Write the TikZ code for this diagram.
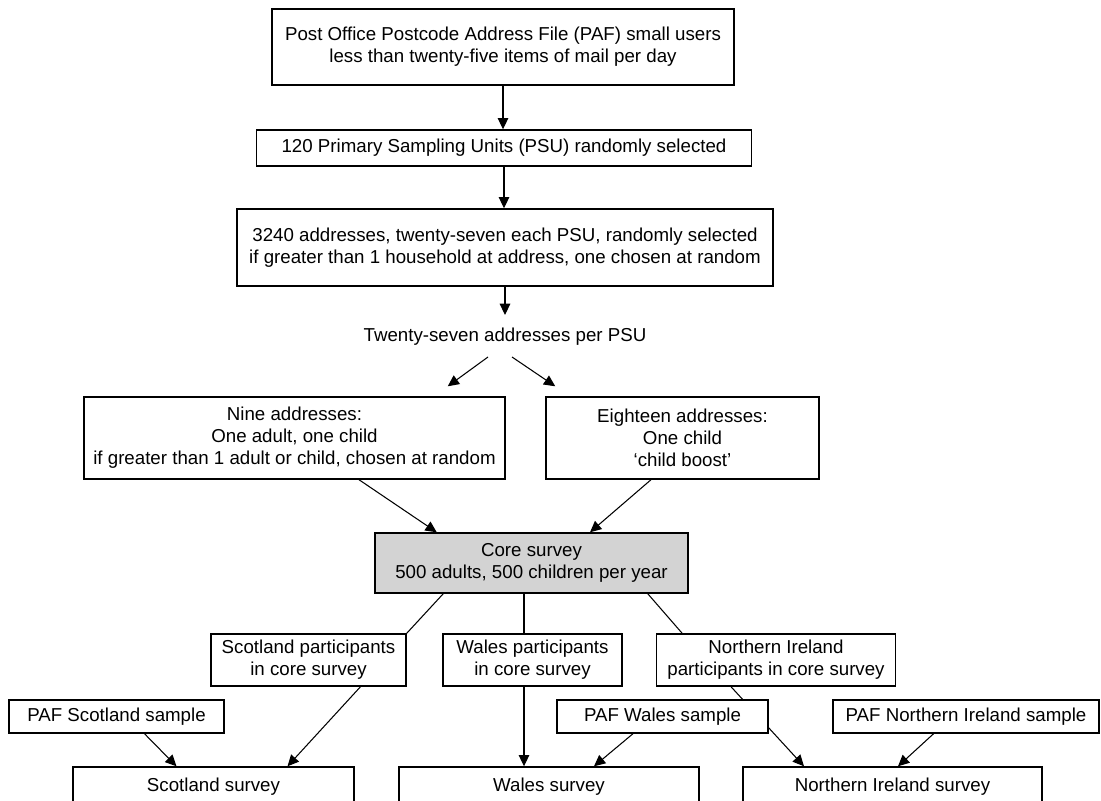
\documentclass[tikz,border=0pt]{standalone}
\usepackage{fontspec}
\setmainfont{Liberation Sans}
\usetikzlibrary{arrows.meta,calc,backgrounds}
\definecolor{coregray}{RGB}{211,211,211}

\begin{document}
\begin{tikzpicture}[x=0.025cm, y=-0.025cm,
    box/.style={draw, line width=1pt, fill=white, align=center, inner sep=0pt,
        font=\fontsize{13.3pt}{15.6pt}\selectfont},
    lbl/.style={inner sep=0pt, font=\fontsize{13.3pt}{15.6pt}\selectfont},
    link/.style={line width=0.75pt},
    arr/.style={line width=0.75pt, -{Triangle[length=8pt,width=7.5pt]}}]
    \useasboundingbox (0,0) rectangle (1101,801);

    % Sampling frame
    \node[box, minimum width=11.55cm, minimum height=1.9cm] (paf) at (503,47)
        {Post Office Postcode Address File (PAF) small users\\less than twenty-five items of mail per day};
    \node[box, minimum width=12.375cm, minimum height=0.9cm] (psu) at (504,148)
        {120 Primary Sampling Units (PSU) randomly selected};
    \node[box, minimum width=13.4cm, minimum height=1.925cm] (addr) at (505,247.5)
        {3240 addresses, twenty-seven each PSU, randomly selected\\if greater than 1 household at address, one chosen at random};
    \node[lbl] (tw) at (505,337) {Twenty-seven addresses per PSU};

    % Split of addresses
    \node[box, minimum width=10.525cm, minimum height=2.05cm] (nine) at (294.5,438)
        {Nine addresses:\\One adult, one child\\if greater than 1 adult or child, chosen at random};
    \node[box, minimum width=6.825cm, minimum height=2.05cm] (eighteen) at (682.5,438)
        {Eighteen addresses:\\One child\\`child boost'};
    \node[box, fill=coregray, minimum width=7.825cm, minimum height=1.5cm] (core) at (531.5,563)
        {Core survey\\500 adults, 500 children per year};

    % Participants by nation
    \node[box, minimum width=4.875cm, minimum height=1.3cm] (scopart) at (308.5,660)
        {Scotland participants\\in core survey};
    \node[box, minimum width=4.475cm, minimum height=1.3cm] (walpart) at (532.5,660)
        {Wales participants\\in core survey};
    \node[box, minimum width=5.975cm, minimum height=1.3cm] (nipart) at (776,660)
        {Northern Ireland\\participants in core survey};

    % PAF boost samples
    \node[box, minimum width=5.375cm, minimum height=0.825cm] (pafsco) at (116.5,716.5) {PAF Scotland sample};
    \node[box, minimum width=5.275cm, minimum height=0.825cm] (pafwal) at (662.5,716.5) {PAF Wales sample};
    \node[box, minimum width=6.65cm, minimum height=0.825cm] (pafni) at (966,716.5) {PAF Northern Ireland sample};

    % Surveys
    \node[box, minimum width=7.025cm, minimum height=1cm] (scosurv) at (213.5,787) {Scotland survey};
    \node[box, minimum width=7.5cm, minimum height=1cm] (walsurv) at (549,787) {Wales survey};
    \node[box, minimum width=7.475cm, minimum height=1cm] (nisurv) at (892.5,787) {Northern Ireland survey};

    \begin{scope}[on background layer]
        % Main chain
        \draw[arr] (paf.south) -- (paf.south |- psu.north);
        \draw[arr] (psu.south) -- (psu.south |- addr.north);
        \draw[arr] (addr.south) -- ($(addr.south |- tw)+(0,-22)$);
        \draw[arr] ($(tw)+(-17,20)$) -- ($(nine.north east)+(-58,-10)$);
        \draw[arr] ($(tw)+(7,20)$) -- ($(eighteen.north west)+(10,-10)$);
        \draw[arr] ($(nine.south)+(64.5,0)$) -- ($(core.north west)+(62.5,0)$);
        \draw[arr] ($(eighteen.south)+(-31.5,0)$) -- ($(core.north)+(58.5,0)$);

        % Core survey to the nations
        \draw[link] ($(core.south west)+(69,0)$) -- (scopart.north east);
        \draw[link] ($(core.south)+(-7.5,0)$) -- ($(walpart.north)+(-8.5,0)$);
        \draw[link] ($(core.south east)+(-41,0)$) -- ($(nipart.north west)+(26.4,0)$);

        % Into the surveys
        \draw[arr] ($(scopart.south)+(52,0)$) -- ($(scosurv.north)+(74,0)$);
        \draw[arr] ($(pafsco.south)+(28,0)$) -- ($(scosurv.north)+(-37,0)$);
        \draw[arr] ($(walpart.south)+(-8.5,0)$) -- ($(walsurv.north)+(-25,0)$);
        \draw[arr] ($(pafwal.south)+(-29.5,0)$) -- ($(walsurv.north)+(45,0)$);
        \draw[arr] ($(nipart.south)+(-45,0)$) -- ($(nisurv.north)+(-88.5,0)$);
        \draw[arr] ($(pafni.south)+(-32.4,0)$) -- ($(nisurv.north)+(5.5,0)$);
    \end{scope}
\end{tikzpicture}
\end{document}
